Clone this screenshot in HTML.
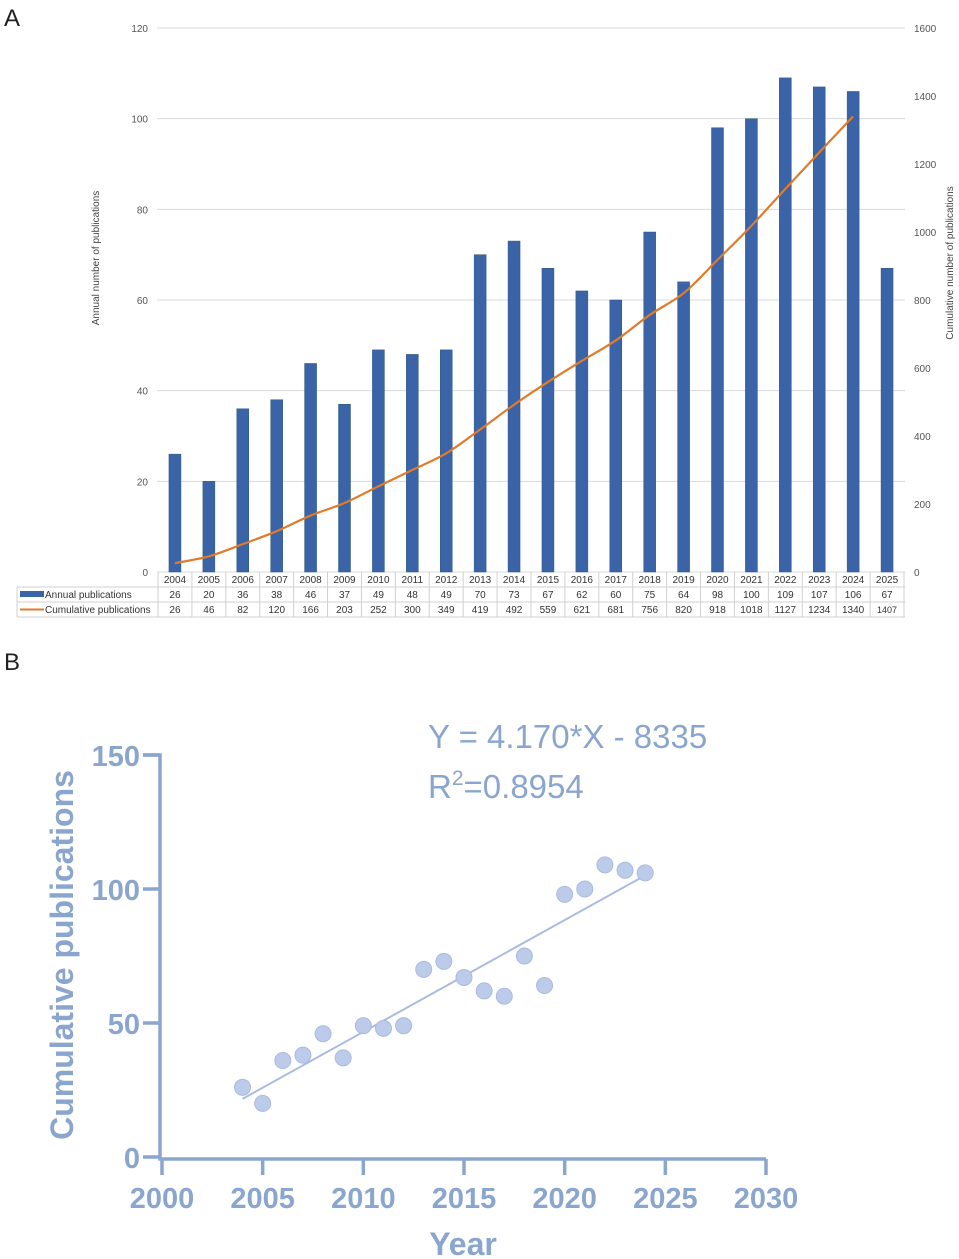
<!DOCTYPE html>
<html><head><meta charset="utf-8"><style>
body{margin:0;background:#fff;width:959px;height:1259px;overflow:hidden;font-family:"Liberation Sans",sans-serif}
svg{display:block}
</style></head><body>
<svg id="s" width="959" height="1259" xmlns="http://www.w3.org/2000/svg">
<text x="4" y="26" font-size="24" fill="#222">A</text>
<text x="4" y="670" font-size="24" fill="#222">B</text>
<g id="a"></g>
<g id="b"></g>
</svg>
<script>
const years=[2004,2005,2006,2007,2008,2009,2010,2011,2012,2013,2014,2015,2016,2017,2018,2019,2020,2021,2022,2023,2024,2025];
const annual=[26,20,36,38,46,37,49,48,49,70,73,67,62,60,75,64,98,100,109,107,106,67];
const cumulative=[26,46,82,120,166,203,252,300,349,419,492,559,621,681,756,820,918,1018,1127,1234,1340,1407];
const leftTicks=[0,20,40,60,80,100,120];
const rightTicks=[0,200,400,600,800,1000,1200,1400,1600];
const bYears=[2004,2005,2006,2007,2008,2009,2010,2011,2012,2013,2014,2015,2016,2017,2018,2019,2020,2021,2022,2023,2024];
const bValues=[26,20,36,38,46,37,49,48,49,70,73,67,62,60,75,64,98,100,109,107,106];
const bXTicks=[2000,2005,2010,2015,2020,2025,2030];
const bYTicks=[0,50,100,150];
const slope=4.170, intercept=-8335;

const NS="http://www.w3.org/2000/svg";
function mk(p,tag,attrs,txt){const e=document.createElementNS(NS,tag);for(const k in attrs)e.setAttribute(k,attrs[k]);if(txt!==undefined)e.textContent=txt;p.appendChild(e);return e;}
const A=document.getElementById('a'), B=document.getElementById('b');
// Panel A
const x0=158,cw=(904-158)/years.length;
const xa=i=>x0+cw*(i+0.5);
const yl=v=>572-v/120*544;
const yr=v=>572-v/1600*544;
leftTicks.forEach(t=>{
 const l=mk(A,'line',{x1:157,x2:905,y1:yl(t),y2:yl(t),stroke:'#d9d9d9','stroke-width':1});
 
 const tx=mk(A,'text',{x:148,y:yl(t)+4,'font-size':10,fill:'#555','text-anchor':'end'},t);
 
});
rightTicks.forEach(t=>{
 const tx=mk(A,'text',{x:914,y:yr(t)+4,'font-size':10,fill:'#555'},t);
 
});
let t1=mk(A,'text',{transform:'translate(99,258) rotate(-90)','font-size':10,fill:'#444','text-anchor':'middle'},'Annual number of publications');

let t2=mk(A,'text',{transform:'translate(953,263) rotate(-90)','font-size':10,fill:'#444','text-anchor':'middle'},'Cumulative number of publications');

annual.forEach((v,i)=>{
 const r=mk(A,'rect',{x:xa(i)-6,y:yl(v),width:12,height:572-yl(v),fill:'#3a63a8',stroke:'#2e5a7a','stroke-width':0.5});
 
});
const pts=cumulative.slice(0,cumulative.length-1).map((v,i)=>[xa(i),yr(v)]);
let d='M'+pts[0][0]+','+pts[0][1];
for(let i=1;i<pts.length;i++){const p0=pts[i-1],p1=pts[i],pm=pts[i-2]||p0,pn=pts[i+1]||p1;
 const c1=[p0[0]+(p1[0]-pm[0])/6,p0[1]+(p1[1]-pm[1])/6],c2=[p1[0]-(pn[0]-p0[0])/6,p1[1]-(pn[1]-p0[1])/6];
 d+=' C'+c1+' '+c2+' '+p1;}
const ln=mk(A,'path',{d:d,fill:'none',stroke:'#e07b2a','stroke-width':2.2});

// table
const tb=mk(A,'g',{});

[[572,587],[587,602],[602,617]].forEach(([a,b],ri)=>{
 mk(tb,'line',{x1:ri==0?158:17,x2:905,y1:b,y2:b,stroke:'#d0d0d0'});
});
mk(tb,'line',{x1:17,x2:158,y1:587,y2:587,stroke:'#d0d0d0'});
mk(tb,'line',{x1:17,x2:17,y1:587,y2:617,stroke:'#d0d0d0'});
for(let i=0;i<=years.length;i++)mk(tb,'line',{x1:x0+cw*i,x2:x0+cw*i,y1:572,y2:617,stroke:'#d0d0d0'});
mk(tb,'rect',{x:20,y:591,width:24,height:6,fill:'#3a63a8'});
mk(tb,'line',{x1:20,x2:44,y1:609.5,y2:609.5,stroke:'#e07b2a','stroke-width':2});
mk(tb,'text',{x:45,y:598,'font-size':10,fill:'#333'},'Annual publications');
mk(tb,'text',{x:45,y:613,'font-size':10,fill:'#333'},'Cumulative publications');
years.forEach((y,i)=>{
 mk(tb,'text',{x:xa(i),y:583,'font-size':10,fill:'#333','text-anchor':'middle'},y);
 mk(tb,'text',{x:xa(i),y:598,'font-size':10,fill:'#333','text-anchor':'middle'},annual[i]);
 mk(tb,'text',{x:xa(i),y:613,'font-size':i==21?9:10,fill:'#333','text-anchor':'middle'},cumulative[i]);
});
// Panel B
const C='#8aa6cf';
const xb=v=>162+(v-2000)/30*604;
const yb=v=>1157-v/150*402;
const ax=mk(B,'path',{d:'M143,'+yb(150)+' H160 V1159 H'+xb(2030),fill:'none',stroke:C,'stroke-width':3.5});

bYTicks.forEach(t=>{
 mk(B,'line',{x1:143,x2:160,y1:yb(t),y2:yb(t),stroke:C,'stroke-width':3.5});
 const tx=mk(B,'text',{x:140,y:yb(t)+11,'font-size':29,'font-weight':'bold',fill:C,'text-anchor':'end'},t);
 
});
bXTicks.forEach(t=>{
 mk(B,'line',{x1:xb(t),x2:xb(t),y1:1159,y2:1175,stroke:C,'stroke-width':3.5});
 const tx=mk(B,'text',{x:xb(t),y:1208,'font-size':29,'font-weight':'bold',fill:C,'text-anchor':'middle'},t);
 
});
let yt=mk(B,'text',{transform:'translate(73,955) rotate(-90)','font-size':32,'font-weight':'bold',fill:C,'text-anchor':'middle'},'Cumulative publications');

let xt=mk(B,'text',{x:463,y:1255,'font-size':32,'font-weight':'bold',fill:C,'text-anchor':'middle'},'Year');

const x1=bYears[0],x2=bYears[bYears.length-1];
const rl=mk(B,'line',{x1:xb(x1),y1:yb(slope*x1+intercept),x2:xb(x2),y2:yb(slope*x2+intercept),stroke:'#aabbe0','stroke-width':2});

bValues.forEach((v,i)=>{
 const c=mk(B,'circle',{cx:xb(bYears[i]),cy:yb(v),r:8,fill:'#bccbea',stroke:'#aabbe0','stroke-width':1});
 
});
let eq=mk(B,'text',{x:428,y:748,'font-size':33,fill:C},'Y = 4.170*X - 8335');

let r2=mk(B,'text',{x:428,y:798,'font-size':33,fill:C});

r2.innerHTML='R<tspan dy="-13" font-size="21">2</tspan><tspan dy="13">=0.8954</tspan>';
</script>
</body></html>
